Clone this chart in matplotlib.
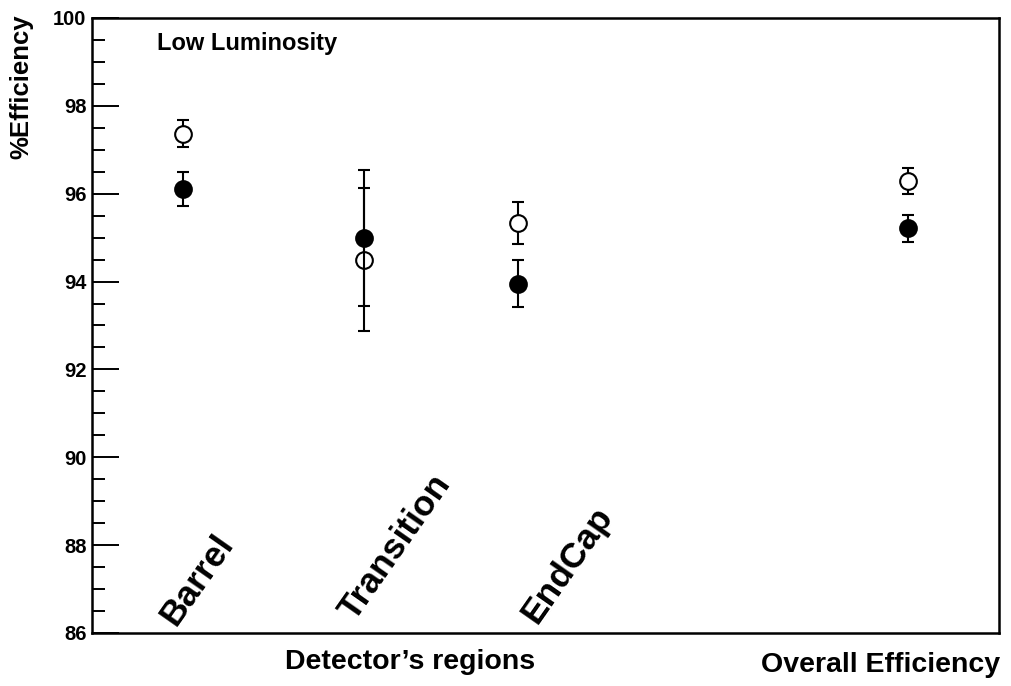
import matplotlib
matplotlib.use("Agg")
import matplotlib.pyplot as plt
from matplotlib.ticker import MultipleLocator

plt.rcParams['font.family'] = ['Liberation Sans', 'DejaVu Sans']
plt.rcParams['font.weight'] = 'bold'

# Detector regions and the overall result
regions = ["Barrel", "Transition", "EndCap"]
x_pos = [1.0, 3.0, 4.7, 9.0]          # Barrel, Transition, EndCap, Overall

# Open circles
eff_open = [97.37, 94.50, 95.34, 96.29]
err_open = [0.31, 1.62, 0.48, 0.29]

# Filled circles
eff_full = [96.11, 94.99, 93.95, 95.21]
err_full = [0.39, 1.55, 0.54, 0.31]

y_ticks = [86, 88, 90, 92, 94, 96, 98, 100]

fig = plt.figure(figsize=(10.12, 6.86), dpi=100)
ax = fig.add_axes([0.0909, 0.0773, 0.8963, 0.8965])

ax.errorbar(x_pos, eff_open, yerr=err_open, fmt='o', ms=12, mfc='white',
            mec='black', mew=1.5, ecolor='black', elinewidth=1.5,
            capsize=4, capthick=1.5, zorder=3)
ax.errorbar(x_pos, eff_full, yerr=err_full, fmt='o', ms=12, mfc='black',
            mec='black', mew=1.5, ecolor='black', elinewidth=1.5,
            capsize=4, capthick=1.5, zorder=4)

ax.set_xlim(0, 10)
ax.set_ylim(86, 100)
ax.set_yticks(y_ticks)
ax.set_yticklabels([str(t) for t in y_ticks], fontsize=14.5, fontweight='bold')
ax.yaxis.set_minor_locator(MultipleLocator(0.5))
ax.tick_params(axis='y', which='major', direction='in', length=19.5, width=1.4, pad=4)
ax.tick_params(axis='y', which='minor', direction='in', length=9.5, width=1.4)
ax.tick_params(axis='x', which='both', bottom=False, labelbottom=False)
for s in ax.spines.values():
    s.set_linewidth(1.8)

# Rotated region names inside the frame
label_xy = [(1.16, 87.21), (3.34, 87.96), (5.24, 87.55)]
for name, (lx, ly) in zip(regions, label_xy):
    ax.text(lx, ly, name, rotation=55, ha='center', va='center',
            fontsize=25.5, fontweight='bold')

ax.text(0.72, 99.43, "Low Luminosity", fontsize=17, fontweight='bold',
        ha='left', va='center')

fig.text(0.405, 0.035, "Detector\u2019s regions", fontsize=20.5,
         fontweight='bold', ha='center', va='center')
fig.text(0.870, 0.031, "Overall Efficiency", fontsize=20.5,
         fontweight='bold', ha='center', va='center')
fig.text(0.021, 0.874, "%Efficiency", fontsize=18.5, fontweight='bold',
         rotation=90, ha='center', va='center')

fig.savefig("out.png", dpi=100)
